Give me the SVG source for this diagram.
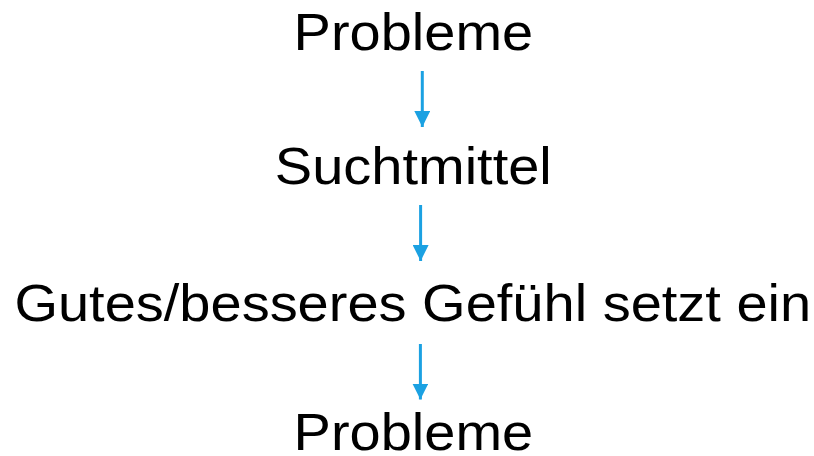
<svg xmlns="http://www.w3.org/2000/svg" width="814" height="456" viewBox="0 0 814 456">
<style>
.t{font-family:"Liberation Sans",Arial,sans-serif;font-size:52px;fill:#000;text-anchor:middle}
.c{stroke:#1BA1E2;stroke-width:3;fill:none}
</style>
<defs>
<marker id="ah" markerUnits="userSpaceOnUse" markerWidth="16" markerHeight="16" refX="16" refY="8" orient="auto">
<path d="M0,0 L16,8 L0,16 Z" fill="#1BA1E2"/>
</marker>
</defs>
<rect width="814" height="456" fill="#fff"/>
<g id="connectors">
<line class="c" x1="422.3" y1="71" x2="422.3" y2="127" marker-end="url(#ah)"/>
<line class="c" x1="420.6" y1="205" x2="420.6" y2="261" marker-end="url(#ah)"/>
<line class="c" x1="420.4" y1="344" x2="420.4" y2="399.5" marker-end="url(#ah)"/>
</g>
<g id="n1"><text class="t" x="413.4" y="50" textLength="239.6" lengthAdjust="spacingAndGlyphs">Probleme</text></g>
<g id="n2"><text class="t" x="413.3" y="184" textLength="277" lengthAdjust="spacingAndGlyphs">Suchtmittel</text></g>
<g id="n3"><text class="t" x="412.8" y="321" textLength="796.8" lengthAdjust="spacingAndGlyphs">Gutes/besseres Gefühl setzt ein</text></g>
<g id="n4"><text class="t" x="413.4" y="450" textLength="239.6" lengthAdjust="spacingAndGlyphs">Probleme</text></g>
</svg>
